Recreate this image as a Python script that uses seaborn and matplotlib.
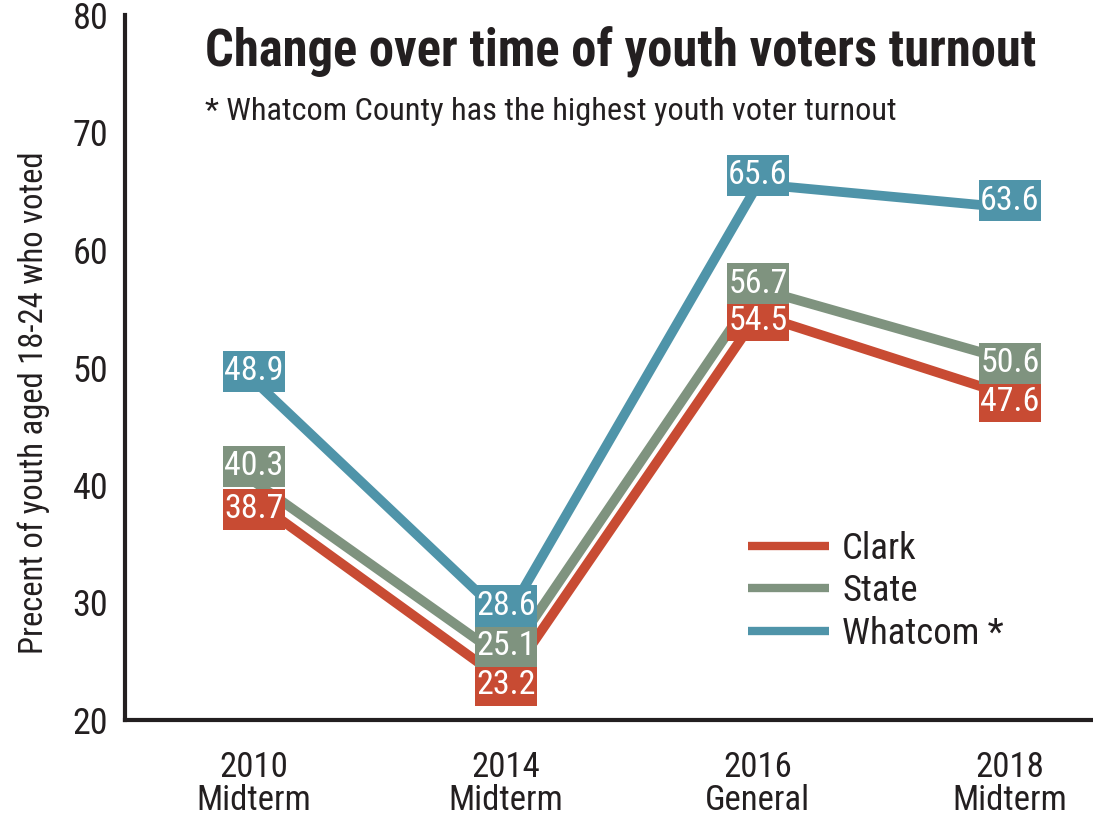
import numpy as np
import pandas as pd
import matplotlib
matplotlib.use("Agg")
import matplotlib.pyplot as plt
import matplotlib.font_manager as fm
from matplotlib.lines import Line2D
import seaborn as sns

# ---------------- data ----------------
categories = ["2010\nMidterm", "2014\nMidterm", "2016\nGeneral", "2018\nMidterm"]
series_names = ["Clark", "State", "Whatcom"]
legend_labels = ["Clark", "State", "Whatcom *"]
clark = [38.7, 23.2, 54.5, 47.6]
state = [40.3, 25.1, 56.7, 50.6]
whatcom = [48.9, 28.6, 65.6, 63.6]
y_ticks = [20, 30, 40, 50, 60, 70, 80]
title = "Change over time of youth voters turnout"
subtitle = "* Whatcom County has the highest youth voter turnout"
ylabel = "Precent of youth aged 18-24 who voted"

# ---------------- style ----------------
colors = {"Clark": "#C84B33", "State": "#7F937F", "Whatcom": "#4F94A9"}
ink = "#231F20"
# label offsets (px, positive = up) to keep boxes apart
label_offsets_px = {
    "Clark": [-9, -3, -6, -6],
    "State": [15, 14, 5, -3],
    "Whatcom": [9, 13, 9, 7],
}


def pick_font():
    names = {f.name for f in fm.fontManager.ttflist}
    for n in ["Liberation Sans Narrow", "Roboto Condensed", "Open Sans Condensed"]:
        if n in names:
            return n, "normal"
    for f in fm.fontManager.ttflist:
        if f.name == "DejaVu Sans" and "Condensed" in f.fname:
            return "DejaVu Sans", "condensed"
    return "Liberation Sans", "normal"


FONT, STRETCH = pick_font()

sns.set_style("white")
plt.rcParams["font.family"] = [FONT, "DejaVu Sans"]
plt.rcParams["font.stretch"] = STRETCH
plt.rcParams["text.color"] = ink

W, H = 1093, 834
fig = plt.figure(figsize=(W / 100, H / 100), dpi=100)
ax = fig.add_axes([125 / W, 1 - 720 / H, (W - 125) / W, (720 - 15) / H])

rows = []
for name, vals in zip(series_names, [clark, state, whatcom]):
    for i, v in enumerate(vals):
        rows.append({"pos": i, "value": v, "series": name})
df = pd.DataFrame(rows)

sns.lineplot(data=df, x="pos", y="value", hue="series", hue_order=series_names,
             palette=colors, linewidth=7, legend=False, sort=False, ax=ax,
             solid_capstyle="butt", solid_joinstyle="miter", zorder=2)

# value labels
px2pt = 72 / 100
for name, vals in zip(series_names, [clark, state, whatcom]):
    for i, v in enumerate(vals):
        ax.annotate(f"{v:.1f}", xy=(i, v),
                    xytext=(0, label_offsets_px[name][i] * px2pt),
                    textcoords="offset points", ha="center", va="center",
                    fontsize=24.5, color="white", zorder=5,
                    bbox=dict(boxstyle="square,pad=0.03", fc=colors[name], ec="none",
                              mutation_aspect=4.5))

ax.set_xlim(-0.512, 3.33)
ax.set_ylim(20, 80)
ax.set_xticks(range(len(categories)))
ax.set_xticklabels(categories, fontsize=25, linespacing=1.0, color=ink)
ax.set_yticks(y_ticks)
ax.set_yticklabels([str(t) for t in y_ticks], fontsize=26, color=ink)
ax.set_xlabel("")
ax.set_ylabel(ylabel, fontsize=23.5, color=ink)
ax.yaxis.set_label_coords(-0.077, 0.45)

for s in ["top", "right"]:
    ax.spines[s].set_visible(False)
for s in ["left", "bottom"]:
    ax.spines[s].set_linewidth(3)
    ax.spines[s].set_color(ink)
ax.tick_params(axis="y", direction="in", length=16, width=3, color=ink, pad=12)
ax.tick_params(axis="x", direction="in", length=11, width=3, color=ink, pad=22)
ax.grid(False)

# legend
handles = [Line2D([0], [0], color=colors[n], lw=6, solid_capstyle="butt") for n in series_names]
ax.legend(handles, legend_labels, loc="upper left",
          bbox_to_anchor=(748 / W, 1 - 531 / H), bbox_transform=fig.transFigure,
          frameon=False, fontsize=26.5, handlelength=2.2, handletextpad=0.36,
          labelspacing=0.17, borderpad=0, borderaxespad=0)

# title and subtitle, fitted to the reference width
renderer = fig.canvas.get_renderer()


def fitted_text(x_px, y_px, s, target_w, fs, **kw):
    t = fig.text(x_px / W, 1 - y_px / H, s, fontsize=fs, ha="left", va="baseline", **kw)
    w = t.get_window_extent(renderer).width
    t.set_fontsize(fs * target_w / w)
    return t


fitted_text(205, 67, title, 830, 40, fontweight="bold", color=ink)
fitted_text(205, 120, subtitle, 692, 23, color=ink)

fig.savefig("out.png", dpi=100)
